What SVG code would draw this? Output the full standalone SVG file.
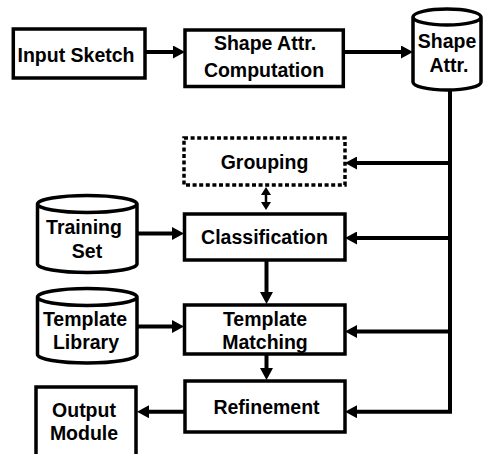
<svg xmlns="http://www.w3.org/2000/svg" width="483" height="454" viewBox="0 0 483 454">
  <style>
    .box { fill: #ffffff; stroke: #000000; stroke-width: 3.5; }
    .dotted { fill: #ffffff; stroke: #000000; stroke-width: 3.5; stroke-dasharray: 4 2.6; }
    .store { fill: #ffffff; stroke: #000000; stroke-width: 3.5; stroke-linejoin: round; }
    .label { font-family: "Liberation Sans", Arial, sans-serif; font-weight: bold; font-size: 19.5px; fill: #000000; text-anchor: middle; }
    .flow { fill: none; stroke: #000000; stroke-width: 4; }
    .thin { fill: none; stroke: #000000; stroke-width: 2.5; }
  </style>
  <defs>
    <marker id="head" markerUnits="userSpaceOnUse" markerWidth="12" markerHeight="13" refX="4" refY="6.5" orient="auto">
      <path d="M0,0 L12,6.5 L0,13 z" fill="#000000"/>
    </marker>
    <marker id="small" markerUnits="userSpaceOnUse" markerWidth="8" markerHeight="10" refX="2" refY="5" orient="auto-start-reverse">
      <path d="M0,0 L8,5 L0,10 z" fill="#000000"/>
    </marker>
  </defs>

  <!-- connectors -->
  <g id="connectors">
    <line class="flow" x1="145" y1="52" x2="177" y2="52" marker-end="url(#head)"/>
    <line class="flow" x1="343" y1="52" x2="405" y2="52" marker-end="url(#head)"/>
    <!-- shared bus from the attribute store -->
    <polyline class="flow" points="450,90 450,411.7 353,411.7" marker-end="url(#head)"/>
    <line class="flow" x1="450" y1="163" x2="353" y2="163" marker-end="url(#head)"/>
    <line class="flow" x1="450" y1="238" x2="353" y2="238" marker-end="url(#head)"/>
    <line class="flow" x1="450" y1="331.5" x2="353" y2="331.5" marker-end="url(#head)"/>
    <line class="flow" x1="137" y1="233.5" x2="176" y2="233.5" marker-end="url(#head)"/>
    <line class="flow" x1="137" y1="326.5" x2="176" y2="326.5" marker-end="url(#head)"/>
    <line class="flow" x1="266.5" y1="260" x2="266.5" y2="296" marker-end="url(#head)"/>
    <line class="flow" x1="266.5" y1="354" x2="266.5" y2="372" marker-end="url(#head)"/>
    <line class="flow" x1="185" y1="411.7" x2="145" y2="411.7" marker-end="url(#head)"/>
    <line class="thin" x1="266" y1="193" x2="266" y2="204" marker-start="url(#small)" marker-end="url(#small)"/>
  </g>

  <g id="input-sketch">
    <rect class="box" x="13.3" y="29" width="131.7" height="49"/>
    <text class="label" x="76" y="61.5">Input Sketch</text>
  </g>

  <g id="shape-attr-computation">
    <rect class="box" x="185" y="30" width="158.3" height="56.5"/>
    <text class="label" x="265" y="50">Shape Attr.</text>
    <text class="label" x="264" y="77">Computation</text>
  </g>

  <g id="shape-attr-store">
    <path class="store" d="M413,17 A34,8 0 0 1 481,17 A34,8 0 0 1 413,17 M413,17 L413,82 A34,8 0 0 0 481,82 L481,17"/>
    <text class="label" x="447" y="47.5">Shape</text>
    <text class="label" x="449" y="71.5">Attr.</text>
  </g>

  <g id="grouping">
    <rect class="dotted" x="184" y="138" width="161" height="47"/>
    <text class="label" x="264.5" y="168.5">Grouping</text>
  </g>

  <g id="training-set">
    <path class="store" d="M37.5,204 A49.75,8.5 0 0 1 137,204 A49.75,8.5 0 0 1 37.5,204 M37.5,204 L37.5,264 A49.75,8.5 0 0 0 137,264 L137,204"/>
    <text class="label" x="84" y="233.5">Training</text>
    <text class="label" x="87" y="257.5">Set</text>
  </g>

  <g id="classification">
    <rect class="box" x="184.5" y="214" width="160.5" height="46"/>
    <text class="label" x="264.5" y="243.5">Classification</text>
  </g>

  <g id="template-library">
    <path class="store" d="M37.5,297 A49.75,8.5 0 0 1 137,297 A49.75,8.5 0 0 1 37.5,297 M37.5,297 L37.5,354.5 A49.75,8.5 0 0 0 137,354.5 L137,297"/>
    <text class="label" x="85" y="325.5">Template</text>
    <text class="label" x="86" y="348.5">Library</text>
  </g>

  <g id="template-matching">
    <rect class="box" x="184.5" y="305" width="160.5" height="49"/>
    <text class="label" x="265" y="325.5">Template</text>
    <text class="label" x="265" y="348.5">Matching</text>
  </g>

  <g id="refinement">
    <rect class="box" x="185" y="381" width="160" height="51"/>
    <text class="label" x="266.5" y="413.5">Refinement</text>
  </g>

  <g id="output-module">
    <rect class="box" x="36" y="387" width="100" height="83"/>
    <text class="label" x="84" y="417">Output</text>
    <text class="label" x="84" y="440">Module</text>
  </g>
</svg>
